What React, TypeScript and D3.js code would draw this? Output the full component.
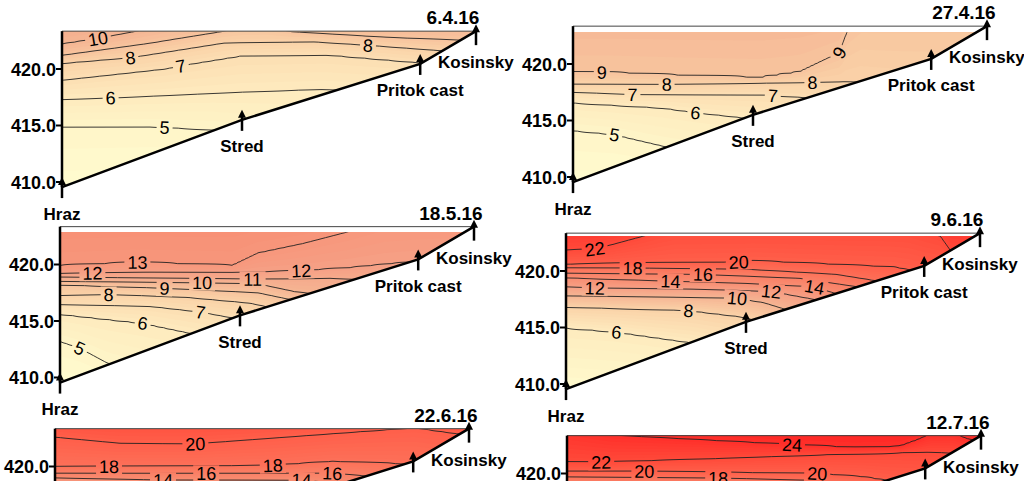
import React from 'react'
import * as d3 from 'd3'

// stations along the reservoir: distance from the dam (km) and bottom elevation (m a.s.l.)
const stations = ['Hraz', 'Stred', 'Pritok cast', 'Kosinsky']
const stationKm = [0, 1.0, 1.99, 2.3]
const bottomM = [409.55, 415.5, 420.45, 423.35]
const yTicks = [410, 415, 420]

const dates = ['6.4.16', '27.4.16', '18.5.16', '9.6.16', '22.6.16', '12.7.16']
const surfaceM = [423.3, 422.8, 422.85, 423.1, 423.3, 423.35]

const apr06 = [
  [4, [[0, 407], [2.3, 410]]],
  [5, [[0, 414.9], [0.49, 414.9], [0.84, 414.6], [1.2, 413.5], [2.3, 412]]],
  [6, [[0, 417.3], [0.3, 417.45], [1.0, 417.95], [1.44, 418.2], [1.8, 418.0], [2.3, 418.0]]],
  [7, [[0, 419.0], [0.57, 420.0], [0.72, 420.45], [0.99, 421.15], [1.47, 421.25], [1.95, 420.6], [2.3, 420.3]]],
  [8, [[0, 420.5], [0.38, 421.0], [0.9, 422.3], [1.4, 422.4], [1.7, 422.1], [2.12, 421.6], [2.3, 421.4]]],
  [9, [[0, 421.2], [0.5, 422.3], [0.88, 423.3], [1.0, 423.7], [1.15, 423.7], [1.28, 423.3], [1.8, 422.8], [2.3, 422.5]]],
  [10, [[0, 422.2], [0.2, 422.7], [0.4, 423.3], [0.6, 424], [2.3, 424]]],
  [11, [[0, 424.6], [2.3, 424.8]]]
]
const apr27 = [
  [4, [[0, 407], [2.3, 408]]],
  [5, [[0, 414.1], [0.23, 413.75], [0.51, 412.7], [1.0, 411.5], [2.3, 410]]],
  [6, [[0, 416.55], [0.5, 416.1], [0.68, 415.7], [0.91, 415.3], [1.1, 414.9], [2.3, 413]]],
  [7, [[0, 417.5], [0.33, 417.3], [1.06, 417.25], [1.32, 417.0], [1.6, 416.5], [2.3, 416]]],
  [8, [[0, 418.2], [0.5, 418.2], [1.05, 418.3], [1.5, 418.4], [1.6, 418.35], [1.8, 418.0], [2.3, 417.5]]],
  [9, [[0, 419.27], [0.22, 419.25], [0.6, 419.0], [1.04, 418.8], [1.26, 419.3], [1.48, 421.0], [1.52, 422.8], [1.6, 424.2], [2.3, 424.5]]],
  [10, [[0, 425.2], [2.3, 425.5]]]
]
const may18 = [
  [4, [[0, 408], [2.3, 405]]],
  [5, [[0, 413.2], [0.11, 412.6], [0.26, 411.3], [0.5, 410], [2.3, 409]]],
  [6, [[0, 415.6], [0.46, 414.8], [0.7, 414.0], [1.0, 413], [2.3, 412]]],
  [7, [[0, 416.45], [0.5, 416.3], [0.78, 415.8], [0.95, 415.3], [1.2, 414.5], [2.3, 414]]],
  [8, [[0, 417.25], [0.27, 417.35], [0.7, 417.1], [1.05, 416.6], [1.2, 416.1], [1.5, 415.5], [2.3, 415]]],
  [9, [[0, 418.2], [0.58, 417.9], [1.1, 417.5], [1.25, 417.0], [1.6, 416], [2.3, 415.5]]],
  [10, [[0, 418.5], [0.8, 418.4], [1.1, 418.3], [1.3, 417.6], [1.6, 417], [2.3, 416.5]]],
  [11, [[0, 418.9], [0.5, 418.8], [1.07, 418.7], [1.5, 418.8], [1.64, 418.7], [2.0, 418.5], [2.3, 418.5]]],
  [12, [[0, 419.2], [0.5, 419.3], [1.0, 419.3], [1.34, 419.45], [1.6, 419.7], [1.89, 420.15], [2.0, 420.25], [2.3, 420.3]]],
  [13, [[0, 419.9], [0.43, 420.2], [0.96, 419.9], [1.1, 421.0], [1.35, 421.85], [1.6, 422.9], [1.8, 424], [2.3, 424.5]]],
  [14, [[0, 424.6], [2.3, 425.5]]]
]
const jun09 = [
  [4, [[0, 408], [2.3, 406]]],
  [6, [[0, 414.95], [0.28, 414.6], [0.63, 413.8], [0.72, 413.6], [1.0, 412.5], [2.3, 411]]],
  [8, [[0, 416.8], [0.68, 416.5], [0.97, 415.95], [1.1, 415.5], [1.4, 414.5], [2.3, 414]]],
  [10, [[0, 417.8], [0.6, 417.7], [0.95, 417.6], [1.1, 417.2], [1.22, 416.6], [1.5, 415.5], [2.3, 415]]],
  [12, [[0, 418.6], [0.16, 418.5], [0.7, 418.4], [1.14, 418.2], [1.41, 417.4], [1.7, 416.5], [2.3, 416]]],
  [14, [[0, 419.4], [0.58, 419.1], [1.0, 418.9], [1.38, 418.6], [1.5, 418.0], [1.8, 417.3], [2.3, 417]]],
  [16, [[0, 419.8], [0.76, 419.7], [1.3, 419.35], [1.62, 418.6], [2.0, 418], [2.3, 417.5]]],
  [18, [[0, 420.3], [0.37, 420.27], [1.0, 420.15], [1.5, 419.7], [1.73, 419.1], [2.0, 418.5], [2.3, 418]]],
  [20, [[0, 420.6], [0.96, 420.8], [1.04, 420.9], [1.82, 420.35], [1.9, 420.1], [2.0, 419.8], [2.3, 419.5]]],
  [22, [[0, 421.85], [0.16, 421.95], [0.25, 422.3], [0.43, 423.1], [0.6, 424], [1.9, 424], [2.08, 423.1], [2.14, 421.7], [2.3, 421.5]]],
  [24, [[0, 424.5], [2.3, 424.8]]]
]
const jun22 = [
  [4, [[0, 408], [2.3, 406]]],
  [6, [[0, 414.8], [0.7, 413.7], [2.3, 411]]],
  [8, [[0, 416.6], [1.0, 415.8], [2.3, 414]]],
  [10, [[0, 417.6], [1.0, 417.2], [1.3, 416.8], [2.3, 415]]],
  [12, [[0, 418.4], [1.0, 418.2], [1.5, 417.6], [2.3, 416]]],
  [14, [[0, 419.0], [0.6, 418.8], [1.37, 418.8], [1.6, 418.5], [2.3, 417]]],
  [16, [[0, 419.4], [0.84, 419.4], [1.54, 419.4], [1.7, 419.2], [2.0, 418.5], [2.3, 418]]],
  [18, [[0, 419.95], [0.3, 420.0], [1.21, 420.1], [1.54, 420.45], [1.85, 420.3], [2.1, 420], [2.3, 420]]],
  [20, [[0, 422.6], [0.36, 422.05], [0.78, 422.0], [1.2, 422.5], [1.92, 423.35], [2.0, 423.45], [2.1, 423.2], [2.28, 422.8], [2.3, 422.7]]],
  [22, [[0, 424.6], [2.3, 424.8]]]
]
const jul12 = [
  [4, [[0, 408], [2.3, 406]]],
  [6, [[0, 414.5], [0.6, 413.0], [2.3, 411]]],
  [8, [[0, 416.5], [0.8, 414.8], [2.3, 413]]],
  [10, [[0, 417.6], [1.0, 416.5], [2.3, 414.5]]],
  [12, [[0, 418.3], [1.0, 417.8], [2.3, 415.5]]],
  [14, [[0, 418.8], [1.0, 418.5], [1.4, 417.6], [2.3, 416.5]]],
  [16, [[0, 419.2], [1.0, 419.0], [1.5, 418.3], [2.3, 417]]],
  [18, [[0, 419.7], [0.84, 419.6], [1.4, 419.4], [1.7, 418.9], [2.3, 418]]],
  [20, [[0, 420.2], [0.43, 420.2], [1.39, 420.0], [1.65, 419.7], [1.8, 419.3], [2.3, 418.5]]],
  [22, [[0, 421.0], [0.19, 421.0], [0.8, 421.3], [1.5, 421.7], [2.0, 421.9], [2.15, 421.8], [2.3, 421.5]]],
  [24, [[0, 424.2], [0.25, 423.4], [1.25, 422.55], [1.6, 422.3], [1.85, 422.4], [1.95, 423.0], [2.02, 423.5], [2.15, 423.6], [2.2, 423.2], [2.3, 422.7]]],
  [26, [[0, 426], [2.3, 426]]]
]
const isotherms = [apr06, apr27, may18, jun09, jun22, jul12]

// isotherms drawn as lines, and where they carry a label [temperature, km]
const lineLevels = [
  [5, 6, 7, 8, 9, 10],
  [5, 6, 7, 8, 9],
  [5, 6, 7, 8, 9, 10, 11, 12, 13],
  [6, 8, 10, 12, 14, 16, 18, 20, 22],
  [6, 8, 10, 12, 14, 16, 18, 20],
  [6, 8, 10, 12, 14, 16, 18, 20, 22, 24]
]
const labelSpots = [
  [[10, 0.2], [8, 0.38], [7, 0.66], [6, 0.27], [5, 0.57], [8, 1.7]],
  [[9, 0.16], [8, 0.52], [7, 0.33], [6, 0.68], [5, 0.23], [8, 1.33], [7, 1.11], [9, 1.48]],
  [[13, 0.43], [12, 0.18], [12, 1.34], [11, 1.07], [10, 0.79], [9, 0.58], [8, 0.27], [7, 0.78], [6, 0.46], [5, 0.11]],
  [[22, 0.16], [20, 0.96], [18, 0.37], [16, 0.76], [14, 0.58], [12, 0.16], [10, 0.95], [8, 0.68], [6, 0.28], [12, 1.14], [14, 1.38]],
  [[20, 0.78], [18, 0.3], [18, 1.21], [16, 0.84], [16, 1.54], [14, 0.6], [14, 1.37]],
  [[24, 1.25], [22, 0.19], [20, 0.43], [20, 1.39], [18, 0.84]]
]

// layout
const PANEL_X0 = [62, 573, 60, 566, 55, 567]
const PANEL_Y420 = [69, 64, 264.5, 271, 466.5, 473.5]
const KM_MAX = 2.3
const PANEL_W = 414
const PX_PER_M = 11.3
const TOP_M = 423.35
const GRID = 2
const STEP = 0.25
const FONT = 'Arial, "Liberation Sans", sans-serif'

const color = d3.scaleLinear<string>()
  .domain([4, 6, 8, 10, 12, 14, 17, 20, 22, 25])
  .range(['#FFFFD2', '#FEEBBE', '#FAD2A8', '#F5B593', '#F6A085', '#F88D72', '#FB7960', '#FF5F4A', '#FF4A3A', '#FF2222'])
  .clamp(true)

function tempAt (levels: number[], zs: number[], z: number) {
  if (z <= zs[0]) return levels[0]
  for (let k = 1; k < zs.length; k++) {
    if (z <= zs[k]) {
      const span = zs[k] - zs[k - 1]
      return span > 0 ? levels[k - 1] + (levels[k] - levels[k - 1]) * (z - zs[k - 1]) / span : levels[k]
    }
  }
  return levels[levels.length - 1]
}

function Panel ({ i }: { i: number }) {
  const iso: any[] = isotherms[i]
  const x0 = PANEL_X0[i]
  const x = d3.scaleLinear().domain([0, KM_MAX]).range([x0, x0 + PANEL_W])
  const y = d3.scaleLinear().domain([410, 420]).range([PANEL_Y420[i] + 10 * PX_PER_M, PANEL_Y420[i]])
  const levels: number[] = iso.map(d => d[0])
  const fns = iso.map(d => d3.scaleLinear()
    .domain(d[1].map((p: number[]) => p[0]))
    .range(d[1].map((p: number[]) => p[1]))
    .clamp(true))

  // temperature field on a 2px grid, built from the isotherm elevations
  const gx0 = x0 - 4
  const gy0 = y(424.5)
  const n = Math.ceil((PANEL_W + 8) / GRID) + 1
  const m = Math.ceil((y(407.5) - gy0) / GRID) + 1
  const values = new Array(n * m)
  for (let c = 0; c < n; c++) {
    const km = x.invert(gx0 + c * GRID)
    const zs = fns.map(f => f(km))
    for (let r = 0; r < m; r++) values[r * n + c] = tempAt(levels, zs, y.invert(gy0 + r * GRID))
  }
  const path = d3.geoPath(d3.geoTransform({
    point (px: number, py: number) {
      this.stream.point(gx0 + (px - 0.5) * GRID, gy0 + (py - 0.5) * GRID)
    }
  }))
  const bands = d3.contours().size([n, m])
    .thresholds(d3.range(levels[0], levels[levels.length - 1], STEP))(values)
  const lines = d3.contours().size([n, m]).thresholds(lineLevels[i])(values)

  // water body
  const surf = surfaceM[i]
  const kmEnd = d3.scaleLinear().domain(bottomM).range(stationKm).clamp(true)(surf)
  const water = [[0, surf], [kmEnd, surf]]
    .concat(stationKm.map((k, j) => [k, bottomM[j]]).filter(p => p[0] < kmEnd).reverse())
  const waterPath = d3.line()(water.map(p => [x(p[0]), y(p[1])]) as any) + 'Z'
  const bottomPath = d3.line()(stationKm.map((k, j) => [x(k), y(bottomM[j])]) as any)

  const labels = labelSpots[i].map(([lv, km]) => {
    const f = fns[levels.indexOf(lv)]
    const a = Math.atan2(y(f(km + 0.03)) - y(f(km - 0.03)), x(km + 0.03) - x(km - 0.03)) * 180 / Math.PI
    return { lv, px: x(km), py: y(f(km)), a, w: String(lv).length * 10 + 6 }
  })

  const topY = y(TOP_M)
  const hrazY = y(bottomM[0])
  const kosX = x(stationKm[3])

  return (
    <g>
      <defs>
        <clipPath id={`water${i}`}><path d={waterPath} /></clipPath>
        <mask id={`gap${i}`} maskUnits='userSpaceOnUse' x={0} y={0} width={1024} height={481}>
          <rect x={0} y={0} width={1024} height={481} fill='white' />
          {labels.map((l, k) => (
            <rect key={k} x={l.px - l.w / 2} y={l.py - 8} width={l.w} height={16} fill='black'
              transform={`rotate(${l.a} ${l.px} ${l.py})`} />
          ))}
        </mask>
      </defs>
      <g clipPath={`url(#water${i})`}>
        {bands.map((b, k) => <path key={k} d={path(b as any) || ''} fill={color(b.value + STEP / 2)} />)}
        <g mask={`url(#gap${i})`}>
          {lines.map((l, k) => <path key={k} d={path(l as any) || ''} fill='none' stroke='#222' strokeWidth={0.9} />)}
        </g>
      </g>
      {labels.map((l, k) => (
        <text key={k} x={l.px} y={l.py} dy='0.36em' textAnchor='middle' fontFamily={FONT} fontSize={18}
          transform={`rotate(${l.a} ${l.px} ${l.py})`}>{l.lv}</text>
      ))}
      <line x1={x0} x2={kosX} y1={topY} y2={topY} stroke='#444' strokeWidth={1} />
      <line x1={x0} x2={x0} y1={topY} y2={hrazY} stroke='black' strokeWidth={2.5} />
      {yTicks.map(t => (
        <g key={t}>
          <line x1={x0 - 6} x2={x0} y1={y(t)} y2={y(t)} stroke='black' strokeWidth={2} />
          <text x={x0 - 6} y={y(t) + 6.5} textAnchor='end' fontFamily={FONT} fontWeight='bold' fontSize={18}>
            {t.toFixed(1)}
          </text>
        </g>
      ))}
      <path d={bottomPath || ''} fill='none' stroke='black' strokeWidth={2.5} />
      {stations.map((s, j) => {
        const px = x(stationKm[j])
        const py = y(bottomM[j]) + (j === 3 ? 3 : 0)
        return (
          <g key={s}>
            <line x1={px} x2={px} y1={py - 5} y2={py + 11} stroke='black' strokeWidth={2.5} />
            <path d={`M${px},${py - 10}L${px - 4},${py - 2}L${px + 4},${py - 2}Z`} fill='black' />
            {j === 3
              ? <text x={px - 38} y={topY + 37} fontFamily={FONT} fontWeight='bold' fontSize={17}>{s}</text>
              : <text x={px} y={py + 32.5} textAnchor='middle' fontFamily={FONT} fontWeight='bold' fontSize={17}>{s}</text>}
          </g>
        )
      })}
      <text x={kosX - 23} y={topY - 7} textAnchor='middle' fontFamily={FONT} fontWeight='bold' fontSize={19}>
        {dates[i]}
      </text>
    </g>
  )
}

export default function App () {
  return (
    <svg width={1024} height={481} viewBox='0 0 1024 481'
      style={{ position: 'absolute', left: 0, top: 0, background: 'white' }}>
      {dates.map((d, i) => <Panel key={d} i={i} />)}
    </svg>
  )
}
